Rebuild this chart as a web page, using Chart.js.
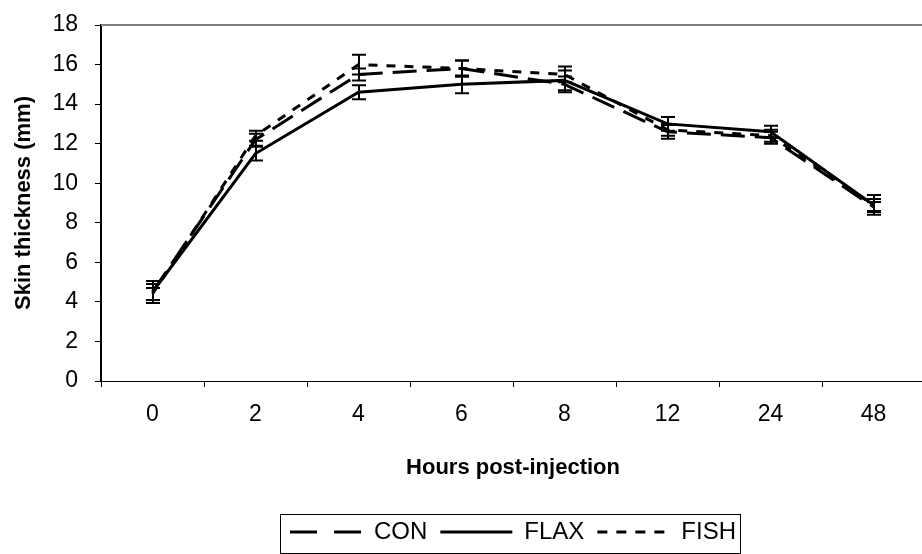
<!DOCTYPE html>
<html>
<head>
<meta charset="utf-8">
<script src="https://cdn.jsdelivr.net/npm/chart.js@4/dist/chart.umd.min.js"></script>
<style>
  html, body { margin: 0; padding: 0; background: #fff; overflow: hidden; }
  #wrap { width: 925px; height: 554px; }
</style>
</head>
<body>
<div id="wrap"><canvas id="skinChart"></canvas></div>
<script>
// hours post-injection
const hours = ['0', '2', '4', '6', '8', '12', '24', '48'];

// skin thickness (mm), means
const conValues = [4.5, 12.2, 15.5, 15.8, 15.0, 12.6, 12.3, 8.8];
const flaxValues = [4.5, 11.5, 14.6, 15.0, 15.2, 13.0, 12.6, 8.9];
const fishValues = [4.4, 12.4, 16.0, 15.8, 15.5, 12.7, 12.4, 8.9];

// error bar half-heights
const conErrors = [0.4, 0.3, 0.3, 0.4, 0.4, 0.35, 0.3, 0.25];
const flaxErrors = [0.55, 0.35, 0.35, 0.45, 0.5, 0.35, 0.3, 0.5];
const fishErrors = [0.3, 0.25, 0.5, 0.4, 0.4, 0.3, 0.3, 0.3];

const yTicks = [0, 2, 4, 6, 8, 10, 12, 14, 16, 18];

const fontFamily = '"Liberation Sans", Arial, sans-serif';

// draws the vertical error bars with caps
const errorBars = {
    id: 'errorBars',
    afterDatasetsDraw(chart) {
        const ctx = chart.ctx;
        const yScale = chart.scales.y;
        ctx.save();
        ctx.strokeStyle = '#000';
        ctx.lineWidth = 2;
        ctx.setLineDash([]);
        chart.data.datasets.forEach((ds, i) => {
            const meta = chart.getDatasetMeta(i);
            meta.data.forEach((pt, j) => {
                const x = Math.round(pt.x);
                const top = yScale.getPixelForValue(ds.data[j] + ds.errors[j]);
                const bottom = yScale.getPixelForValue(ds.data[j] - ds.errors[j]);
                ctx.beginPath();
                ctx.moveTo(x, top);
                ctx.lineTo(x, bottom);
                ctx.moveTo(x - 7, top);
                ctx.lineTo(x + 7, top);
                ctx.moveTo(x - 7, bottom);
                ctx.lineTo(x + 7, bottom);
                ctx.stroke();
            });
        });
        ctx.restore();
    }
};

// centre the legend under the plot area instead of the whole canvas
const legendCenter = {
    id: 'legendCenter',
    afterLayout(chart) {
        const lg = chart.legend;
        const area = chart.chartArea;
        const shift = (area.left + area.right) / 2 - (lg.left + lg.right) / 2;
        lg.left += shift;
        lg.right += shift;
        lg.legendHitBoxes.forEach(b => { b.left += shift; });
    }
};

// gray line on top of the plot and a box round the legend
const frames = {
    id: 'frames',
    afterDraw(chart) {
        const ctx = chart.ctx;
        const area = chart.chartArea;
        ctx.save();
        ctx.strokeStyle = '#808080';
        ctx.lineWidth = 2;
        ctx.beginPath();
        ctx.moveTo(area.left, area.top);
        ctx.lineTo(chart.width, area.top);
        ctx.stroke();

        const boxes = chart.legend.legendHitBoxes;
        if (boxes && boxes.length) {
            const left = Math.min(...boxes.map(b => b.left)) - 10;
            const right = Math.max(...boxes.map(b => b.left + b.width)) + 4;
            const top = Math.min(...boxes.map(b => b.top)) - 6;
            const bottom = Math.max(...boxes.map(b => b.top + b.height)) + 9;
            ctx.strokeStyle = '#000';
            ctx.lineWidth = 1;
            ctx.strokeRect(Math.round(left) + 0.5, Math.round(top) + 0.5, Math.round(right - left), Math.round(bottom - top));
        }
        ctx.restore();
    }
};

const ctx = document.getElementById('skinChart');

new Chart(ctx, {
    type: 'line',
    data: {
        labels: hours,
        datasets: [
            {
                label: 'CON',
                data: conValues,
                errors: conErrors,
                borderColor: '#000',
                backgroundColor: '#000',
                borderWidth: 3,
                borderDash: [24, 10],
                legendDash: [27, 17],
                pointRadius: 0,
                tension: 0,
            },
            {
                label: 'FLAX',
                data: flaxValues,
                errors: flaxErrors,
                borderColor: '#000',
                backgroundColor: '#000',
                borderWidth: 3,
                legendDash: [],
                pointRadius: 0,
                tension: 0,
            },
            {
                label: 'FISH',
                data: fishValues,
                errors: fishErrors,
                borderColor: '#000',
                backgroundColor: '#000',
                borderWidth: 3,
                borderDash: [9, 9],
                legendDash: [10, 9],
                pointRadius: 0,
                tension: 0,
            },
        ],
    },
    options: {
        responsive: true,
        maintainAspectRatio: false,
        animation: false,
        layout: {
            padding: { top: 25, right: 0, bottom: 0, left: 0 },
        },
        plugins: {
            tooltip: { enabled: false },
            legend: {
                display: true,
                position: 'bottom',
                labels: {
                    color: '#000',
                    font: { family: fontFamily, size: 24 },
                    usePointStyle: true,
                    pointStyle: 'line',
                    pointStyleWidth: 72,
                    boxWidth: 72,
                    boxHeight: 24,
                    padding: 13,
                    generateLabels(chart) {
                        const items = Chart.defaults.plugins.legend.labels.generateLabels(chart);
                        items.forEach(item => {
                            const ds = chart.data.datasets[item.datasetIndex];
                            item.lineDash = ds.legendDash;
                            item.lineWidth = 3;
                            item.strokeStyle = '#000';
                        });
                        return items;
                    },
                },
            },
        },
        scales: {
            x: {
                type: 'category',
                offset: true,
                afterFit(scale) {
                    scale.height = 126;
                },
                border: { color: '#000', width: 1 },
                grid: {
                    offset: true,
                    drawOnChartArea: false,
                    drawTicks: true,
                    tickLength: 6,
                    color: '#000',
                },
                ticks: {
                    color: '#000',
                    font: { family: fontFamily, size: 23 },
                    padding: 14,
                    maxRotation: 0,
                },
                title: {
                    display: true,
                    text: 'Hours post-injection',
                    color: '#000',
                    font: { family: fontFamily, size: 22, weight: 'bold' },
                    padding: { top: 0, bottom: 26 },
                },
            },
            y: {
                min: 0,
                max: 18,
                afterBuildTicks(scale) {
                    scale.ticks = yTicks.map(v => ({ value: v }));
                },
                afterFit(scale) {
                    scale.width = 101;
                    scale.paddingTop = 0;
                    scale.paddingBottom = 0;
                },
                border: { color: '#000', width: 2 },
                grid: {
                    drawOnChartArea: false,
                    drawTicks: true,
                    tickLength: 6,
                    color: '#000',
                },
                ticks: {
                    color: '#000',
                    font: { family: fontFamily, size: 23 },
                    padding: 17,
                },
                title: {
                    display: true,
                    text: 'Skin thickness (mm)',
                    color: '#000',
                    font: { family: fontFamily, size: 22, weight: 'bold' },
                    padding: { top: 11, bottom: 0 },
                },
            },
        },
    },
    plugins: [errorBars, legendCenter, frames],
});
</script>
</body>
</html>
